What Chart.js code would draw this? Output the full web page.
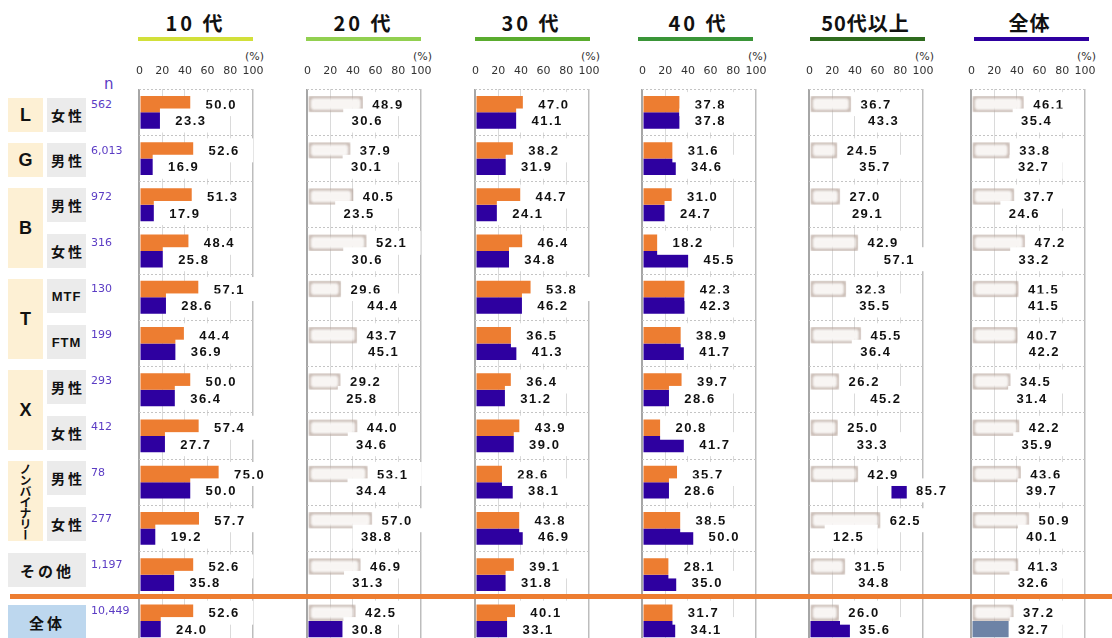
<!DOCTYPE html>
<html lang="ja">
<head>
<meta charset="utf-8">
<script src="https://cdn.jsdelivr.net/npm/chart.js@4.4.1/dist/chart.umd.min.js"></script>
<style>
  html, body { margin: 0; padding: 0; background: #fff; }
  #page { position: relative; width: 1112px; height: 638px; overflow: hidden; font-family: "Noto Sans CJK JP", sans-serif; color: #111; }
  canvas.panel { position: absolute; top: 0; }
  .title { position: absolute; top: 8px; height: 30px; line-height: 30px; text-align: center; font-weight: bold; font-size: 20px; letter-spacing: 3px; }
  .uline { position: absolute; top: 37px; height: 4px; }
  .pct { position: absolute; top: 50px; width: 40px; text-align: right; font: 11px "DejaVu Sans"; color: #333; }
  .grp { position: absolute; left: 8px; width: 35px; background: #fdf0d4; display: flex; align-items: center; justify-content: center; font: bold 18px "Liberation Sans"; }
  .sub { position: absolute; left: 47px; width: 39px; height: 34px; background: #ebebeb; display: flex; align-items: center; justify-content: center; font-weight: bold; font-size: 14px; }
  .sub.en { font: bold 13px "Liberation Sans"; letter-spacing: 1px; }
  .wide { position: absolute; left: 8px; width: 78px; height: 34px; display: flex; align-items: center; justify-content: center; font-weight: bold; font-size: 15px; letter-spacing: 3px; }
  .n { position: absolute; left: 91px; font: 11px "DejaVu Sans"; color: #5b3cc4; }
  .vert { writing-mode: vertical-rl; text-orientation: upright; font: bold 12px "Noto Sans CJK JP"; letter-spacing: -1px; }
</style>
</head>
<body>
<div id="page">
  <div class="title" style="left:138px;width:115px">10 代</div>
  <div class="title" style="left:306px;width:115px">20 代</div>
  <div class="title" style="left:474px;width:115px">30 代</div>
  <div class="title" style="left:641px;width:115px">40 代</div>
  <div class="title" style="left:808px;width:115px;letter-spacing:1px">50代以上</div>
  <div class="title" style="left:972px;width:115px;letter-spacing:1px">全体</div>

  <div class="uline" style="left:138px;width:115px;background:#d2e03a"></div>
  <div class="uline" style="left:306px;width:115px;background:#92d050"></div>
  <div class="uline" style="left:475px;width:115px;background:#5aac2e"></div>
  <div class="uline" style="left:638px;width:115px;background:#3a9538"></div>
  <div class="uline" style="left:810px;width:115px;background:#2f6b1e"></div>
  <div class="uline" style="left:974px;width:115px;background:#2e00a0"></div>

  <div class="pct" style="left:224px">(%)</div>
  <div class="pct" style="left:392px">(%)</div>
  <div class="pct" style="left:560px">(%)</div>
  <div class="pct" style="left:727px">(%)</div>
  <div class="pct" style="left:894px">(%)</div>
  <div class="pct" style="left:1056px">(%)</div>

  <canvas class="panel" id="c10" width="175" height="652" style="left:125px"></canvas>
  <canvas class="panel" id="c20" width="175" height="652" style="left:293px"></canvas>
  <canvas class="panel" id="c30" width="175" height="652" style="left:461px"></canvas>
  <canvas class="panel" id="c40" width="175" height="652" style="left:628px"></canvas>
  <canvas class="panel" id="c50" width="175" height="652" style="left:795px"></canvas>
  <canvas class="panel" id="cAll" width="175" height="652" style="left:957px"></canvas>

  <div style="position:absolute;left:104px;top:75px;font:15px 'DejaVu Sans';color:#5b3cc4">n</div>

  <div class="grp" style="top:98px;height:34px">L</div>
  <div class="grp" style="top:143px;height:34px">G</div>
  <div class="grp" style="top:188px;height:80px">B</div>
  <div class="grp" style="top:279px;height:80px">T</div>
  <div class="grp" style="top:370px;height:80px">X</div>
  <div class="grp" style="top:461px;height:80px"><span class="vert">ノンバイナリー</span></div>

  <div class="sub" style="top:98px">女 性</div>
  <div class="sub" style="top:143px">男 性</div>
  <div class="sub" style="top:188px">男 性</div>
  <div class="sub" style="top:234px">女 性</div>
  <div class="sub en" style="top:279px">MTF</div>
  <div class="sub en" style="top:325px">FTM</div>
  <div class="sub" style="top:370px">男 性</div>
  <div class="sub" style="top:416px">女 性</div>
  <div class="sub" style="top:461px">男 性</div>
  <div class="sub" style="top:507px">女 性</div>
  <div class="wide" style="top:553px;background:#ebebeb">その他</div>
  <div class="wide" style="top:605px;background:#bdd7ee">全体</div>

  <div id="nCol"></div>

  <div style="position:absolute;left:10px;top:594px;width:1102px;height:5px;background:#ed7d31;z-index:5"></div>
</div>

<script>
// row order: L女性, G男性, B男性, B女性, T MTF, T FTM, X男性, X女性, NB男性, NB女性, その他, 全体
const rows = ['L 女性', 'G 男性', 'B 男性', 'B 女性', 'T MTF', 'T FTM', 'X 男性', 'X 女性',
  'ノンバイナリー 男性', 'ノンバイナリー 女性', 'その他', '全体'];
const nCounts = ['562', '6,013', '972', '316', '130', '199', '293', '412', '78', '277', '1,197', '10,449'];
const xTicks = [0, 20, 40, 60, 80, 100];

const s10a = [50.0, 52.6, 51.3, 48.4, 57.1, 44.4, 50.0, 57.4, 75.0, 57.7, 52.6, 52.6];
const s10b = [23.3, 16.9, 17.9, 25.8, 28.6, 36.9, 36.4, 27.7, 50.0, 19.2, 35.8, 24.0];
const s20a = [48.9, 37.9, 40.5, 52.1, 29.6, 43.7, 29.2, 44.0, 53.1, 57.0, 46.9, 42.5];
const s20b = [30.6, 30.1, 23.5, 30.6, 44.4, 45.1, 25.8, 34.6, 34.4, 38.8, 31.3, 30.8];
const s30a = [47.0, 38.2, 44.7, 46.4, 53.8, 36.5, 36.4, 43.9, 28.6, 43.8, 39.1, 40.1];
const s30b = [41.1, 31.9, 24.1, 34.8, 46.2, 41.3, 31.2, 39.0, 38.1, 46.9, 31.8, 33.1];
const s40a = [37.8, 31.6, 31.0, 18.2, 42.3, 38.9, 39.7, 20.8, 35.7, 38.5, 28.1, 31.7];
const s40b = [37.8, 34.6, 24.7, 45.5, 42.3, 41.7, 28.6, 41.7, 28.6, 50.0, 35.0, 34.1];
const s50a = [36.7, 24.5, 27.0, 42.9, 32.3, 45.5, 26.2, 25.0, 42.9, 62.5, 31.5, 26.0];
const s50b = [43.3, 35.7, 29.1, 57.1, 35.5, 36.4, 45.2, 33.3, 85.7, 12.5, 34.8, 35.6];
const sAllA = [46.1, 33.8, 37.7, 47.2, 41.5, 40.7, 34.5, 42.2, 43.6, 50.9, 41.3, 37.2];
const sAllB = [35.4, 32.7, 24.6, 33.2, 41.5, 42.2, 31.4, 35.9, 39.7, 40.1, 32.6, 32.7];

const ORANGE = '#ed7d31';
const INDIGO = '#2e00a0';
const SLATE = '#6d83a6';

// n column
const nTops = [98, 144, 190, 236, 282, 328, 374, 420, 466, 512, 558, 604];
document.getElementById('nCol').innerHTML = nCounts
  .map((n, i) => `<div class="n" style="top:${nTops[i]}px">${n}</div>`).join('');

// faded panels draw the first series as soft outlined bars; second series only where marked
const panels = [
  { id: 'c10', a: s10a, b: s10b, faded: false, lead: 6 },
  { id: 'c20', a: s20a, b: s20b, faded: true, lead: -1, marks: { 11: 'solid' } },
  { id: 'c30', a: s30a, b: s30b, faded: false, lead: 6 },
  { id: 'c40', a: s40a, b: s40b, faded: false, lead: 6 },
  { id: 'c50', a: s50a, b: s50b, faded: true, lead: -1, marks: { 8: 'tail', 11: 'solid' } },
  { id: 'cAll', a: sAllA, b: sAllB, faded: true, lead: -1, marks: { 11: 'slate' } }
];

function secondFill(p, c) {
  if (!p.faded) return INDIGO;
  const mode = p.marks[c.dataIndex];
  if (mode === 'solid') return INDIGO;
  if (mode === 'slate') return SLATE;
  if (mode === 'tail') {
    const xs = c.chart.scales.x;
    if (!xs) return INDIGO;
    const end = xs.getPixelForValue(c.raw);
    const g = c.chart.ctx.createLinearGradient(end - 16, 0, end - 15, 0);
    g.addColorStop(0, 'rgba(255,255,255,0)');
    g.addColorStop(1, INDIGO);
    return g;
  }
  return 'rgba(0,0,0,0)';
}

const softBars = {
  id: 'softBars',
  beforeDatasetDraw(chart, args, opts) {
    if (!opts.on || args.index !== 0) return;
    chart.ctx.save();
    chart.ctx.filter = 'blur(1.7px)';
  },
  afterDatasetDraw(chart, args, opts) {
    if (!opts.on || args.index !== 0) return;
    chart.ctx.restore();
  }
};

// white tag behind each value, sitting over the bar end
const valueTags = {
  id: 'valueTags',
  afterDatasetsDraw(chart, args, opts) {
    const ctx = chart.ctx;
    ctx.save();
    ctx.font = 'bold 13px "Liberation Sans"';
    ctx.letterSpacing = '1.5px';
    ctx.textAlign = 'center';
    ctx.textBaseline = 'middle';
    chart.data.datasets.forEach((ds, di) => {
      chart.getDatasetMeta(di).data.forEach((bar, i) => {
        const v = ds.data[i];
        const left = bar.x - opts.lead;
        ctx.fillStyle = '#fff';
        ctx.fillRect(left, bar.y - 12, bar.x + 54 - left, 24);
        ctx.fillStyle = '#111';
        ctx.fillText(v.toFixed(1), bar.x + 25, bar.y + 1);
      });
    });
    ctx.restore();
  }
};

function makePanel(p) {
  new Chart(document.getElementById(p.id), {
    type: 'bar',
    data: {
      labels: rows,
      datasets: [
        {
          data: p.a,
          backgroundColor: p.faded ? '#f8f5f3' : ORANGE,
          borderColor: p.faded ? 'rgba(175,155,145,0.85)' : ORANGE,
          borderWidth: p.faded ? 3 : 0,
          borderSkipped: false,
          categoryPercentage: 0.71,
          barPercentage: 1
        },
        {
          data: p.b,
          backgroundColor: c => secondFill(p, c),
          borderWidth: 0,
          categoryPercentage: 0.71,
          barPercentage: 1
        }
      ]
    },
    options: {
      indexAxis: 'y',
      responsive: false,
      animation: false,
      devicePixelRatio: 1,
      layout: { padding: { left: 5, right: 47, top: 54, bottom: 8 } },
      plugins: {
        legend: { display: false },
        tooltip: { enabled: false },
        softBars: { on: p.faded },
        valueTags: { lead: p.lead }
      },
      scales: {
        x: {
          position: 'top',
          min: 0,
          max: 100,
          afterBuildTicks: s => { s.ticks = xTicks.map(v => ({ value: v })); },
          ticks: { font: { family: 'DejaVu Sans', size: 11 }, color: '#333', padding: 11, maxRotation: 0, autoSkip: false },
          grid: {
            drawTicks: false,
            color: c => c.tick && c.tick.value === 0 ? '#a6a6a6' : (c.tick && c.tick.value === 100 ? '#bdbdbd' : '#dadada'),
            lineWidth: c => c.tick && c.tick.value === 0 ? 2 : (c.tick && c.tick.value === 100 ? 1.5 : 1)
          },
          border: { display: false }
        },
        y: {
          ticks: { display: false },
          grid: { drawTicks: false, color: '#c4c4c4' },
          border: { display: false, dash: [2, 2] }
        }
      }
    },
    plugins: [softBars, valueTags]
  });
}

panels.forEach(makePanel);
</script>
</body>
</html>
